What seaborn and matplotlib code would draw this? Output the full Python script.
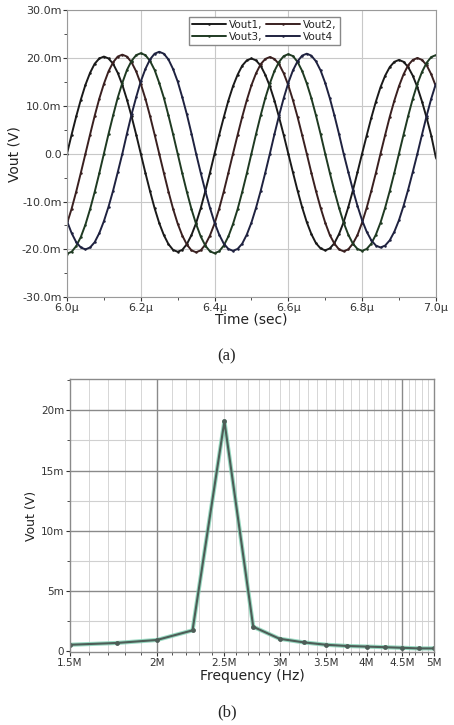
import numpy as np
import pandas as pd
import matplotlib
matplotlib.use("Agg")
import matplotlib.pyplot as plt
import matplotlib.ticker as mticker
import seaborn as sns

# transient output, 6.0us .. 7.0us, one sample every 12.5 ns (values in mV)
time_us = np.linspace(6.0, 7.0, 81)
vout1 = [0.0, 4.0, 7.8, 11.3, 14.4, 16.9, 18.8, 19.9, 20.3, 19.9, 18.8, 16.9, 14.4, 11.3, 7.8, 4.0,
         0.0, -4.0, -7.8, -11.4, -14.5, -17.0, -18.9, -20.1, -20.5, -20.1, -18.9, -17.0, -14.5, -11.4, -7.8, -4.0,
         0.0, 3.9, 7.6, 11.1, 14.1, 16.5, 18.4, 19.5, 19.9, 19.5, 18.4, 16.5, 14.1, 11.1, 7.6, 3.9,
         0.0, -3.9, -7.7, -11.2, -14.3, -16.8, -18.7, -19.8, -20.2, -19.8, -18.7, -16.8, -14.3, -11.2, -7.7, -3.9,
         0.0, 3.8, 7.5, 10.9, 13.9, 16.3, 18.1, 19.2, 19.6, 19.2, 18.1, 16.3, 13.9, 10.9, 7.5, 3.8,
         -0.8]
vout2 = [-14.6, -11.5, -7.9, -4.0,
         0.0, 4.0, 7.9, 11.5, 14.6, 17.2, 19.1, 20.3, 20.7, 20.3, 19.1, 17.2, 14.6, 11.5, 7.9, 4.0,
         0.0, -4.0, -7.9, -11.5, -14.6, -17.1, -19.0, -20.2, -20.6, -20.2, -19.0, -17.1, -14.6, -11.5, -7.9, -4.0,
         0.0, 3.9, 7.7, 11.2, 14.3, 16.8, 18.7, 19.8, 20.2, 19.8, 18.7, 16.8, 14.3, 11.2, 7.7, 3.9,
         0.0, -4.0, -7.8, -11.3, -14.4, -17.0, -18.8, -20.0, -20.4, -20.0, -18.8, -17.0, -14.4, -11.3, -7.8, -4.0,
         0.0, 3.9, 7.7, 11.1, 14.1, 16.6, 18.5, 19.6, 20.0, 19.6, 18.5, 16.6, 14.1]
vout3 = [-20.9, -20.5, -19.3, -17.4, -14.8, -11.6, -8.0, -4.1,
         0.0, 4.1, 8.0, 11.7, 14.8, 17.5, 19.4, 20.6, 21.0, 20.6, 19.4, 17.5, 14.8, 11.7, 8.0, 4.1,
         0.0, -4.1, -8.0, -11.6, -14.7, -17.3, -19.2, -20.4, -20.8, -20.4, -19.2, -17.3, -14.7, -11.6, -8.0, -4.1,
         0.0, 4.1, 8.0, 11.6, 14.7, 17.3, 19.2, 20.4, 20.8, 20.4, 19.2, 17.3, 14.7, 11.6, 8.0, 4.1,
         0.0, -4.0, -7.8, -11.3, -14.4, -16.9, -18.8, -19.9, -20.3, -19.9, -18.8, -16.9, -14.4, -11.3, -7.8, -4.0,
         0.0, 4.0, 7.9, 11.5, 14.6, 17.1, 19.0, 20.2, 20.6]
vout4 = [-14.1, -16.6, -18.5, -19.6, -20.0, -19.6, -18.5, -16.6, -14.1, -11.1, -7.7, -3.9,
         0.0, 4.2, 8.2, 11.8, 15.1, 17.7, 19.7, 20.9, 21.3, 20.9, 19.7, 17.7, 15.1, 11.8, 8.2, 4.2,
         0.0, -4.0, -7.8, -11.3, -14.4, -16.9, -18.8, -19.9, -20.3, -19.9, -18.8, -16.9, -14.4, -11.3, -7.8, -4.0,
         0.0, 4.1, 8.0, 11.6, 14.8, 17.4, 19.3, 20.5, 20.9, 20.5, 19.3, 17.4, 14.8, 11.6, 8.0, 4.1,
         0.0, -3.8, -7.5, -10.9, -13.9, -16.3, -18.1, -19.2, -19.6, -19.2, -18.1, -16.3, -13.9, -10.9, -7.5, -3.8,
         0.0, 4.0, 7.9, 11.5, 14.6]
series_names = ["Vout1", "Vout2", "Vout3", "Vout4"]
series_colors = ["#1a1a1a", "#3a2020", "#1f3a22", "#1f2240"]

# spectrum (MHz, mV)
freq_mhz = [1.5, 1.75, 2.0, 2.25, 2.5, 2.75, 3.0, 3.25, 3.5, 3.75, 4.0, 4.25, 4.5, 4.75, 5.0]
spec_mv = [0.5, 0.65, 0.9, 1.7, 19.1, 2.0, 1.0, 0.7, 0.5, 0.4, 0.35, 0.3, 0.25, 0.2, 0.2]

sns.set_style("white")
plt.rcParams['font.family'] = ['DejaVu Sans']

fig = plt.figure(figsize=(4.54, 7.25), dpi=100)
ax1 = fig.add_axes([0.1476, 0.590, 0.8124, 0.396])
ax2 = fig.add_axes([0.154, 0.1007, 0.802, 0.3763])

tick_col = "#333333"

# ---- (a) transient ----
df = pd.DataFrame({
    "t": np.tile(time_us, 4),
    "v": np.concatenate([vout1, vout2, vout3, vout4]),
    "name": np.repeat(series_names, len(time_us)),
})
sns.lineplot(data=df, x="t", y="v", hue="name", palette=series_colors, ax=ax1,
             linewidth=1.4, marker="o", markersize=1.8, markeredgewidth=0)

ax1.set_xlim(6.0, 7.0)
ax1.set_ylim(-30, 30)
ax1.set_xticks([6.0, 6.2, 6.4, 6.6, 6.8, 7.0])
ax1.set_xticklabels(["6.0µ", "6.2µ", "6.4µ", "6.6µ", "6.8µ", "7.0µ"])
ax1.set_yticks([30, 20, 10, 0, -10, -20, -30])
ax1.set_yticklabels(["30.0m", "20.0m", "10.0m", "0.0", "-10.0m", "-20.0m", "-30.0m"])
ax1.xaxis.set_minor_locator(mticker.MultipleLocator(0.1))
ax1.yaxis.set_minor_locator(mticker.MultipleLocator(5))
ax1.grid(True, which="major", color="#c8c8c8", linewidth=0.8)
ax1.tick_params(axis="both", which="major", labelsize=8, colors=tick_col, length=3, direction="out",
                left=True, bottom=True, pad=1)
ax1.tick_params(axis="both", which="minor", length=2, color=tick_col, left=True, bottom=True)
for s in ax1.spines.values():
    s.set_color("#9a9a9a")
    s.set_linewidth(0.8)
ax1.set_xlabel("Time (sec)", fontsize=10, color="#222222", labelpad=0)
ax1.set_ylabel("Vout (V)", fontsize=10, color="#222222", labelpad=0)

# legend filled row by row: Vout1, Vout2 / Vout3, Vout4
handles, labels = ax1.get_legend_handles_labels()
order = [0, 2, 1, 3]
leg_labels = ["Vout1,", "Vout2,", "Vout3,", "Vout4"]
ax1.legend([handles[i] for i in order], [leg_labels[i] for i in order], loc="upper center",
           bbox_to_anchor=(0.535, 0.995), ncol=2, fontsize=7.5, frameon=True, fancybox=False,
           edgecolor="#888888", framealpha=1, handlelength=3.2, columnspacing=0.4,
           handletextpad=0.3, borderpad=0.3, labelspacing=0.2)

fig.text(0.5, 0.508, "(a)", ha="center", va="center", fontsize=12, family="Liberation Serif")

# ---- (b) spectrum ----
spec = pd.DataFrame({"f": np.array(freq_mhz) * 1e6, "v": spec_mv})
sns.lineplot(data=spec, x="f", y="v", ax=ax2, color="#7fd0b2", linewidth=3.0, alpha=0.8)
sns.lineplot(data=spec, x="f", y="v", ax=ax2, color="#4d5d57", linewidth=1.5,
             marker="o", markersize=3.5, markeredgewidth=0)

ax2.set_xscale("log")
ax2.set_xlim(1.5e6, 5e6)
ax2.set_ylim(-0.1, 22.6)
xt = [1.5e6, 2e6, 2.5e6, 3e6, 3.5e6, 4e6, 4.5e6, 5e6]
ax2.set_xticks(xt)
ax2.set_xticklabels(["1.5M", "2M", "2.5M", "3M", "3.5M", "4M", "4.5M", "5M"])
ax2.xaxis.set_minor_locator(mticker.FixedLocator(np.arange(1.5e6, 5.01e6, 0.1e6)))
ax2.xaxis.set_minor_formatter(mticker.NullFormatter())
ax2.set_yticks([0, 5, 10, 15, 20])
ax2.set_yticklabels(["0", "5m", "10m", "15m", "20m"])
ax2.yaxis.set_minor_locator(mticker.MultipleLocator(2.5))
ax2.grid(False)
for x in np.arange(1.5e6, 5.01e6, 0.1e6):
    ax2.axvline(x, color="#d6d6d6", linewidth=0.7, zorder=0)
for x in [2e6, 4.5e6]:
    ax2.axvline(x, color="#8a8a8a", linewidth=1.0, zorder=0.5)
for y in [2.5, 7.5, 12.5, 17.5]:
    ax2.axhline(y, color="#d0d0d0", linewidth=0.8, zorder=0)
for y in [5, 10, 15, 20]:
    ax2.axhline(y, color="#8a8a8a", linewidth=1.0, zorder=0.5)
ax2.tick_params(axis="both", which="major", labelsize=7.5, colors=tick_col, length=3, direction="out",
                left=True, bottom=True, pad=1)
ax2.tick_params(axis="both", which="minor", length=2, color=tick_col, left=True, bottom=True)
for s in ax2.spines.values():
    s.set_color("#8a8a8a")
    s.set_linewidth(1.0)
ax2.set_xlabel("Frequency (Hz)", fontsize=10, color="#222222", labelpad=1)
ax2.set_ylabel("Vout (V)", fontsize=9, color="#222222", labelpad=2)

fig.text(0.5, 0.017, "(b)", ha="center", va="center", fontsize=12, family="Liberation Serif")

fig.savefig("out.png", dpi=100)
